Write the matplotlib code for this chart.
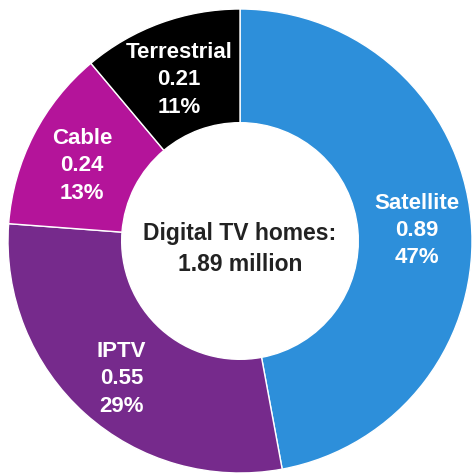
import numpy as np
import matplotlib.pyplot as plt

# Digital TV homes by platform (millions)
labels = ["Satellite", "IPTV", "Cable", "Terrestrial"]
values = [0.89, 0.55, 0.24, 0.21]
shares = [47, 29, 13, 11]
colors = ["#2D8FDA", "#762A8C", "#B4149A", "#000000"]
total_text = "Digital TV homes:\n1.89 million"

plt.rcParams['font.family'] = ['Liberation Sans', 'DejaVu Sans']

fig = plt.figure(figsize=(4.74, 4.77), dpi=100)
ax = fig.add_axes([0, 0, 1, 1])

wedges, _ = ax.pie(values, colors=colors, startangle=90, counterclock=False,
                   radius=1.0, wedgeprops=dict(width=0.49, edgecolor="white", linewidth=1.0))

# pie() resets the limits, so place the donut afterwards
R = 232.0
cx, cy = 240.0, 235.0  # centre in pixels from bottom-left
ax.set_aspect("auto")
ax.set_xlim(-cx / R, (474 - cx) / R)
ax.set_ylim(-cy / R, (477 - cy) / R)
ax.axis("off")

for w, lab, v, s in zip(wedges, labels, values, shares):
    mid = np.deg2rad((w.theta1 + w.theta2) / 2)
    ax.text(0.765 * np.cos(mid), 0.765 * np.sin(mid) - 0.02, f"{lab}\n{v:.2f}\n{s}%",
            ha="center", va="center", color="white", fontsize=16,
            fontweight="bold", linespacing=1.4)

ax.text(0, -0.03, total_text, ha="center", va="center", color="#222222",
        fontsize=16.5, fontweight="bold", linespacing=1.4)

fig.savefig("out.png", dpi=100)
